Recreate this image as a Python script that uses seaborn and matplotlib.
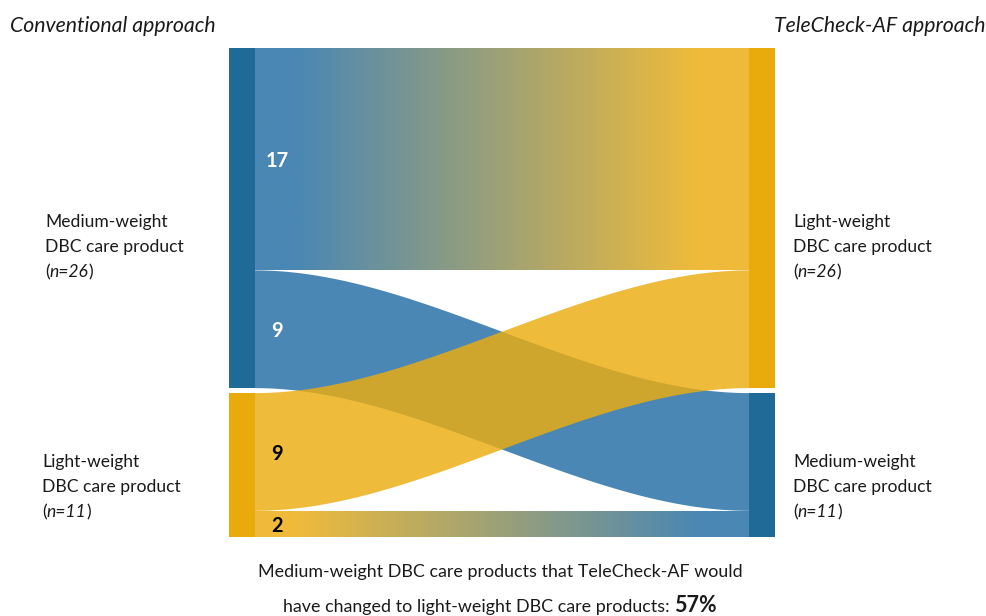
import numpy as np
import matplotlib
matplotlib.use("Agg")
import matplotlib.pyplot as plt
import matplotlib.colors as mcolors
from matplotlib.patches import Polygon, Rectangle
import seaborn as sns

# ---------------- data ----------------
left_order = ["Medium-weight", "Light-weight"]      # conventional approach (top to bottom)
right_order = ["Light-weight", "Medium-weight"]     # TeleCheck-AF approach (top to bottom)
flow_source = ["Medium-weight", "Medium-weight", "Light-weight", "Light-weight"]
flow_target = ["Light-weight", "Medium-weight", "Light-weight", "Medium-weight"]
flow_value = [17, 9, 9, 2]

left_title = "Conventional approach"
right_title = "TeleCheck-AF approach"
node_subtitle = "DBC care product"
footnote_line1 = "Medium-weight DBC care products that TeleCheck-AF would"
footnote_line2 = "have changed to light-weight DBC care products:"
footnote_pct = "57%"

# ---------------- style ----------------
node_color = {"Medium-weight": "#1f6a96", "Light-weight": "#e9ab0c"}
flow_color = {"Medium-weight": "#4a87b4", "Light-weight": "#ecac0f"}
flow_alpha = {"Medium-weight": 1.0, "Light-weight": 0.82}
text_color = "#1a1a1a"

sns.set_theme(style="white")
plt.rcParams["font.family"] = ["Lato", "DejaVu Sans"]

W, H = 987, 616
fig = plt.figure(figsize=(W / 100, H / 100), dpi=100)
ax = fig.add_axes([0, 0, 1, 1])
ax.set_xlim(0, W)
ax.set_ylim(H, 0)
ax.axis("off")
renderer = fig.canvas.get_renderer()


def text_width(s, **kw):
    t = ax.text(0, 0, s, **kw)
    w = t.get_window_extent(renderer).width
    t.remove()
    return w


def fit_size(s, target, **kw):
    return 10 * target / text_width(s, fontsize=10, **kw)


def draw_runs(x, y, parts, ha="left"):
    widths = [text_width(s, **kw) for s, kw in parts]
    total = sum(widths)
    start = x - total / 2 if ha == "center" else (x - total if ha == "right" else x)
    for (s, kw), w in zip(parts, widths):
        ax.text(start, y, s, ha="left", va="baseline", color=text_color, **kw)
        start += w


def over_white(c, a):
    rgb = np.array(mcolors.to_rgb(c))
    return tuple(a * rgb + (1 - a) * 1.0)


# ---------------- layout ----------------
x_left, node_w, x_right = 229, 26, 749
y_top, y_bottom, node_gap = 48, 537, 5
total = sum(flow_value)
k = (y_bottom - y_top - node_gap * (len(left_order) - 1)) / total

left_n = {c: sum(v for s, v in zip(flow_source, flow_value) if s == c) for c in left_order}
right_n = {c: sum(v for t, v in zip(flow_target, flow_value) if t == c) for c in right_order}

left_y, y = {}, y_top
for c in left_order:
    left_y[c] = y
    y += left_n[c] * k + node_gap
right_y, y = {}, y_top
for c in right_order:
    right_y[c] = y
    y += right_n[c] * k + node_gap

# flow attachment positions
flows = list(zip(flow_source, flow_target, flow_value))
src_off = dict(left_y)
src_pos = {}
for s in left_order:
    for t in right_order:
        for i, (fs, ft, v) in enumerate(flows):
            if fs == s and ft == t:
                src_pos[i] = src_off[s]
                src_off[s] += v * k
tgt_off = dict(right_y)
tgt_pos = {}
for t in right_order:
    for s in left_order:
        for i, (fs, ft, v) in enumerate(flows):
            if fs == s and ft == t:
                tgt_pos[i] = tgt_off[t]
                tgt_off[t] += v * k

x0, x1 = x_left + node_w, x_right
xs = np.linspace(x0, x1, 300)
tt = (xs - x0) / (x1 - x0)
smooth = 3 * tt ** 2 - 2 * tt ** 3

for i, (s, t, v) in enumerate(flows):
    top = src_pos[i] + (tgt_pos[i] - src_pos[i]) * smooth
    bot = top + v * k
    verts = np.vstack([np.column_stack([xs, top]), np.column_stack([xs[::-1], bot[::-1]])])
    if s == t:
        poly = Polygon(verts, closed=True, facecolor=flow_color[s], alpha=flow_alpha[s],
                       edgecolor="none", zorder=2 if s == "Light-weight" else 1)
        ax.add_patch(poly)
    else:
        poly = Polygon(verts, closed=True, facecolor="none", edgecolor="none", zorder=1)
        ax.add_patch(poly)
        c_src = over_white(flow_color[s], flow_alpha[s])
        c_tgt = over_white(flow_color[t], flow_alpha[t])
        cmap = sns.blend_palette([c_src, c_tgt], n_colors=256, as_cmap=True)
        L = x1 - x0
        grad = np.clip((xs - (x0 + 0.08 * L)) / (0.82 * L), 0, 1)[None, :]
        im = ax.imshow(grad, cmap=cmap, vmin=0, vmax=1, aspect="auto",
                       interpolation="bilinear",
                       extent=(x0, x1, max(bot.max(), top.max()), min(top.min(), bot.min())),
                       zorder=1)
        im.set_clip_path(poly)

ax.set_xlim(0, W)
ax.set_ylim(H, 0)

# nodes
for c in left_order:
    ax.add_patch(Rectangle((x_left, left_y[c]), node_w, left_n[c] * k,
                           facecolor=node_color[c], edgecolor="none", zorder=3))
for c in right_order:
    ax.add_patch(Rectangle((x_right, right_y[c]), node_w, right_n[c] * k,
                           facecolor=node_color[c], edgecolor="none", zorder=3))

# ---------------- text ----------------
label_fs = fit_size(node_subtitle, 139)
title_fs = fit_size(left_title, 206, style="italic")
num_fs = fit_size("17", 23, fontweight="bold")
foot_fs = fit_size(footnote_line1, 486)

ax.text(10, 32, left_title, ha="left", va="baseline", fontsize=title_fs,
        style="italic", color=text_color)
ax.text(985, 32, right_title, ha="right", va="baseline", fontsize=title_fs,
        style="italic", color=text_color)

line_step = 25
label_first_baseline = [227, 467]
left_label_x = [45, 42]
right_label_x = [793, 793]

for j, c in enumerate(left_order):
    yb = label_first_baseline[j]
    x = left_label_x[j]
    ax.text(x, yb, c, ha="left", va="baseline", fontsize=label_fs, color=text_color)
    ax.text(x, yb + line_step, node_subtitle, ha="left", va="baseline",
            fontsize=label_fs, color=text_color)
    draw_runs(x, yb + 2 * line_step,
              [("(", dict(fontsize=label_fs)),
               (f"n={left_n[c]}", dict(fontsize=label_fs, style="italic")),
               (")", dict(fontsize=label_fs))])

for j, c in enumerate(right_order):
    yb = label_first_baseline[j]
    x = right_label_x[j]
    ax.text(x, yb, c, ha="left", va="baseline", fontsize=label_fs, color=text_color)
    ax.text(x, yb + line_step, node_subtitle, ha="left", va="baseline",
            fontsize=label_fs, color=text_color)
    draw_runs(x, yb + 2 * line_step,
              [("(", dict(fontsize=label_fs)),
               (f"n={right_n[c]}", dict(fontsize=label_fs, style="italic")),
               (")", dict(fontsize=label_fs))])

# flow value labels on the left side
for i, (s, t, v) in enumerate(flows):
    yc = src_pos[i] + v * k / 2
    ax.text(x_left + node_w + 22, yc, str(v), ha="center", va="center_baseline",
            fontsize=num_fs, fontweight="bold",
            color="white" if s == "Medium-weight" else "black", zorder=5)

# footnote
ax.text(500, 577, footnote_line1, ha="center", va="baseline", fontsize=foot_fs,
        color=text_color)
space_w = text_width("x x", fontsize=foot_fs) - text_width("xx", fontsize=foot_fs)
draw_runs(500, 612,
          [(footnote_line2, dict(fontsize=foot_fs)),
           (" ", dict(fontsize=foot_fs)),
           (footnote_pct, dict(fontsize=foot_fs * 1.2, fontweight="bold"))],
          ha="center")

fig.savefig("out.png", dpi=100)
